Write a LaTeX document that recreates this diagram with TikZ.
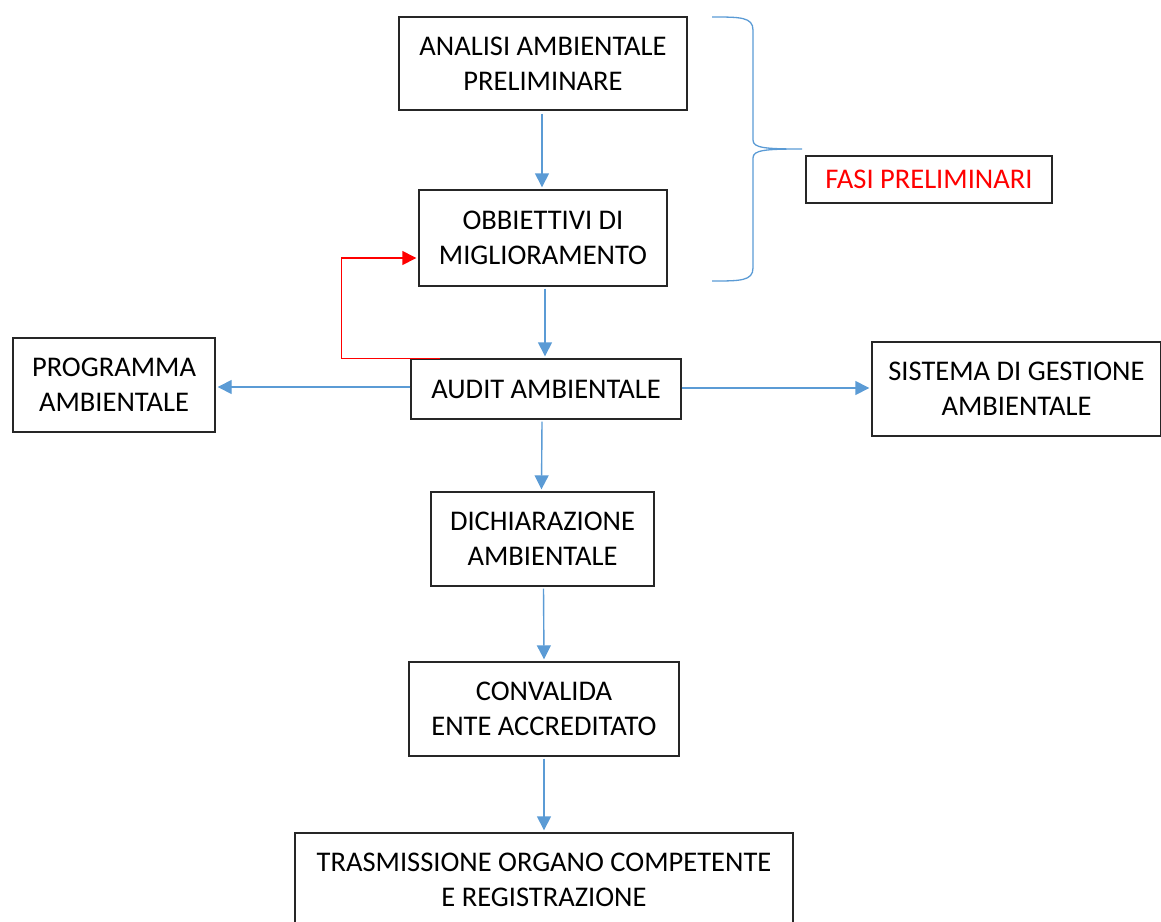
\documentclass[tikz,border=0pt]{standalone}
\usepackage{fontspec}
\setmainfont{Carlito}
\usetikzlibrary{arrows.meta}
\definecolor{lineblue}{HTML}{5B9BD5}
\definecolor{boxgray}{HTML}{262626}
\tikzset{
  box/.style={draw=boxgray, line width=1.4pt, rectangle, align=center, inner sep=0pt,
    font=\fontsize{28.5}{35}\selectfont, text=black},
  arr/.style={draw=lineblue, line width=1.4pt, -{Triangle[length=14pt,width=14pt]}},
  redarr/.style={draw=red, line width=1.4pt, -{Triangle[length=14pt,width=14pt]}},
}
\begin{document}
\begin{tikzpicture}[x=1pt,y=-1pt]
\useasboundingbox (0,0) rectangle (1161,921);
\node[box, minimum width=288pt, minimum height=93pt] (an) at (543,63.5) {ANALISI AMBIENTALE\\PRELIMINARE};
\node[box, minimum width=248pt, minimum height=96pt] (ob) at (543,238) {OBBIETTIVI DI\\MIGLIORAMENTO};
\node[box, minimum width=270pt, minimum height=60pt] (au) at (546,389) {AUDIT AMBIENTALE};
\node[box, minimum width=202pt, minimum height=94pt] (pr) at (114,385) {PROGRAMMA\\AMBIENTALE};
\node[box, minimum width=289pt, minimum height=94pt] (si) at (1016.5,389) {SISTEMA DI GESTIONE\\AMBIENTALE};
\node[box, minimum width=246pt, minimum height=47pt, text=red] (fa) at (929,179.5) {FASI PRELIMINARI};
\node[box, minimum width=223pt, minimum height=94pt] (di) at (542.5,539) {DICHIARAZIONE\\AMBIENTALE};
\node[box, minimum width=270pt, minimum height=94pt] (co) at (544,709) {CONVALIDA\\ENTE ACCREDITATO};
\node[box, minimum width=498pt, minimum height=94pt] (tr) at (544,880) {TRASMISSIONE ORGANO COMPETENTE\\E REGISTRAZIONE};

\draw[arr] ([xshift=-1pt,yshift=-3pt]an.south) -- ([xshift=-1pt,yshift=2pt]ob.north);
\draw[arr] ([xshift=2pt,yshift=-2pt]ob.south) -- ([xshift=-1pt,yshift=2pt]au.north);
\draw[arr] ([yshift=2pt]au.west) -- ([xshift=2pt,yshift=-2pt]pr.east);
\draw[arr] ([yshift=1pt]au.east) -- ([xshift=-2pt,yshift=1pt]si.west);
\draw[arr] ([xshift=-4pt,yshift=-2pt]au.south) -- ([xshift=-1pt,yshift=2pt]di.north);
\draw[arr] ([xshift=1pt,yshift=-2pt]di.south) -- ([yshift=2pt]co.north);
\draw[arr] ([yshift=-2pt]co.south) -- ([yshift=2pt]tr.north);

\draw[redarr] ([xshift=30pt]au.north west) -- ++(-99,0) |- ([xshift=-2pt,yshift=-20pt]ob.west);

\draw[draw=lineblue, line width=1.3pt]
  (712,17) .. controls (740,17) and (753,17) .. (753,30)
  -- (753,140) .. controls (753,148) and (765,149) .. (802,149)
  (802,149) .. controls (765,149) and (753,150) .. (753,158)
  -- (753,268) .. controls (753,281) and (740,281) .. (712,281);
\end{tikzpicture}
\end{document}
